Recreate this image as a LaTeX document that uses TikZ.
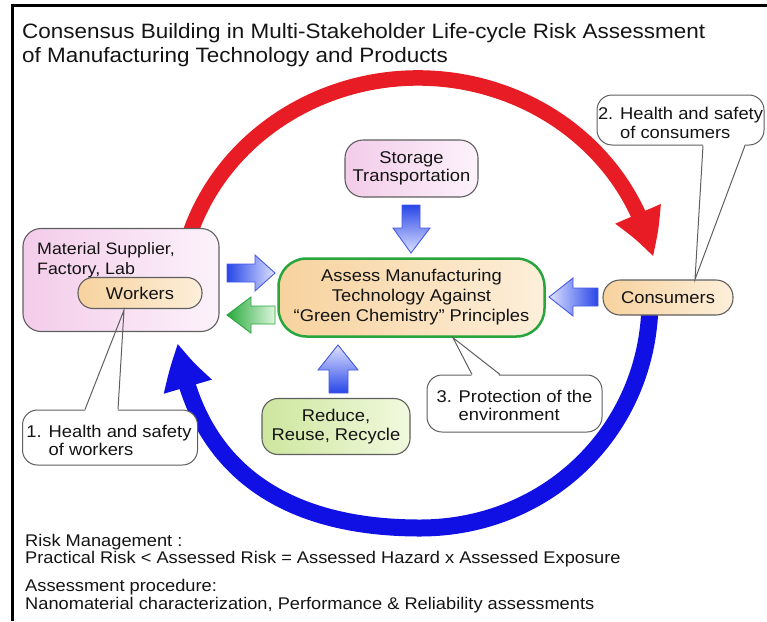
\documentclass[tikz,border=0pt]{standalone}
\usepackage{fontspec}
\setmainfont{Liberation Sans}[FakeStretch=1.08]
\usetikzlibrary{arrows.meta,calc,bending}
\definecolor{arcred}{RGB}{232,28,36}
\definecolor{arcblue}{RGB}{16,16,228}
\definecolor{edgegray}{RGB}{95,95,95}
\definecolor{pinkA}{RGB}{243,204,233}
\definecolor{pinkB}{RGB}{252,242,251}
\definecolor{orangeA}{RGB}{247,210,158}
\definecolor{orangeB}{RGB}{253,239,218}
\definecolor{greenA}{RGB}{205,230,158}
\definecolor{greenB}{RGB}{242,249,222}
\definecolor{bdark}{RGB}{40,70,232}
\definecolor{blight}{RGB}{222,226,255}
\definecolor{bedge}{RGB}{70,90,225}
\definecolor{gdark}{RGB}{40,170,60}
\definecolor{glight}{RGB}{222,246,222}
\definecolor{gedge}{RGB}{40,165,60}
\definecolor{txt}{RGB}{20,20,20}
\newcommand\calltail[4]{%
  \fill[white] ($(#2)+#4$) -- ($(#2)!0.25!(#1)$) -- ($(#3)!0.25!(#1)$) -- ($(#3)+#4$) -- cycle;
  \draw[edgegray, line width=1pt, line join=miter] (#2) -- (#1) -- (#3);
}
\begin{document}
\begin{tikzpicture}[x=1pt,y=-1pt,
  every node/.style={text=txt, inner sep=0pt},
  boxfont/.style={font=\fontsize{17}{20}\selectfont},
  tightfont/.style={font=\fontsize{17}{17.5}\selectfont},
  roundbox/.style={draw=edgegray, line width=1.1pt, rounded corners=#1},
  pinkfill/.style={left color=pinkA, right color=pinkB},
  orangefill/.style={left color=orangeA, right color=orangeB},
  greenfill/.style={left color=greenA, right color=greenB},
  calloutbox/.style={draw=edgegray, line width=1pt, fill=white, rounded corners=15pt},
  blockarrow/.style={line width=0.9pt, line join=miter},
  bigtip/.style={-{Triangle[length=46pt,width=46pt,bend]}},
  plaintext/.style={anchor=base west, font=\fontsize{16.9}{18}\selectfont},
]
\useasboundingbox (0,0) rectangle (767,621);
% frame
\draw[line width=3pt, black, line join=miter] (12,621) -- (12,5.5) -- (767,5.5);
% title
\node[anchor=base west, font=\fontsize{20.8}{24}\selectfont] (title1) at (22,38) {Consensus Building in Multi-Stakeholder Life-cycle Risk Assessment};
\node[anchor=base west, font=\fontsize{20.8}{24}\selectfont] (title2) at (22,62) {of Manufacturing Technology and Products};
% cycle arcs
\coordinate (ec) at (418,304);
\draw[bigtip, line width=15.5pt, arcred] ($(ec)+(198:240 and 226)$) arc[start angle=198, end angle=348, x radius=240, y radius=226];
\coordinate (bstart) at (650,300);
\coordinate (bend) at (178,343);
\draw[bigtip, line width=17pt, arcblue] (bstart) .. controls (650,428) and (549,528) .. (420,528) .. controls (272,528) and (194,458) .. (bend);
% boxes
\node[roundbox=18pt, pinkfill, minimum width=196pt, minimum height=103pt] (mat) at (121,280) {};
\node[anchor=north west, align=left, font=\fontsize{16.5}{20}\selectfont] (matlab) at (37,242) {Material Supplier,\\Factory, Lab};
\node[roundbox=15pt, orangefill, minimum width=124pt, minimum height=31pt, boxfont] (workers) at (140,293) {Workers};
\node[draw=gedge, line width=2.5pt, rounded corners=28pt, orangefill, minimum width=266pt, minimum height=78pt, align=center, boxfont] (ctr) at (411.5,297.5) {Assess Manufacturing\\Technology Against\\``Green Chemistry'' Principles};
\node[roundbox=18pt, pinkfill, minimum width=133pt, minimum height=57pt, align=center, tightfont] (store) at (411.5,168.5) {Storage\\Transportation};
\node[roundbox=16pt, greenfill, minimum width=148pt, minimum height=56pt, align=center, font=\fontsize{17}{19}\selectfont] (rrr) at (336,426.5) {Reduce,\\Reuse, Recycle};
\node[roundbox=17pt, orangefill, minimum width=130pt, minimum height=35pt, boxfont] (cons) at (668,297.5) {Consumers};
% block arrows
\draw[blockarrow, draw=bedge, left color=bdark, right color=blight]
  (227,264) -- (255,264) -- (255,255) -- (275,273) -- (255,291) -- (255,282) -- (227,282) -- cycle;
\draw[blockarrow, draw=gedge, left color=gdark, right color=glight]
  (275,306) -- (251,306) -- (251,297) -- (227,315) -- (251,333) -- (251,324) -- (275,324) -- cycle;
\draw[blockarrow, draw=bedge, top color=bdark, bottom color=blight]
  (402,205) -- (420,205) -- (420,228) -- (430,228) -- (411,253) -- (393,228) -- (402,228) -- cycle;
\draw[blockarrow, draw=bedge, bottom color=bdark, top color=blight]
  (329,393) -- (348,393) -- (348,370) -- (358,370) -- (338,345) -- (318,370) -- (329,370) -- cycle;
\draw[blockarrow, draw=bedge, right color=bdark, left color=blight]
  (598,288) -- (573,288) -- (573,278) -- (549,297) -- (573,316) -- (573,306) -- (598,306) -- cycle;
% callouts
\node[calloutbox, minimum width=175pt, minimum height=55pt] (c1) at (110,437.5) {};
\node[align=left, tightfont] (c1t) at ($(c1)+(-1,3)$) {1. Health and safety\\\phantom{1. }of workers};
\node[calloutbox, minimum width=167pt, minimum height=50pt] (c2) at (680.5,120) {};
\node[align=left, font=\fontsize{17}{19.5}\selectfont] (c2t) at ($(c2)+(0,3)$) {2. Health and safety\\\phantom{2. }of consumers};
\node[calloutbox, minimum width=175pt, minimum height=57pt] (c3) at (514.5,403.5) {};
\node[align=left, tightfont] (c3t) at ($(c3)+(0,2)$) {3. Protection of the\\\phantom{3. }environment};
% callout tails
\coordinate (t1) at ($(workers.south)+(-16,1)$);
\coordinate (t1a) at ($(c1.north)+(-25,0)$);
\coordinate (t1b) at ($(c1.north)+(8,0)$);
\calltail{t1}{t1a}{t1b}{(0,2)}
\coordinate (t2) at ($(cons.north)+(27,0)$);
\coordinate (t2a) at ($(c2.south)+(22.5,0)$);
\coordinate (t2b) at ($(c2.south)+(64.5,0)$);
\calltail{t2}{t2a}{t2b}{(0,-2)}
\coordinate (t3) at ($(ctr.south)+(41.5,0)$);
\coordinate (t3a) at ($(c3.north)+(-42.5,0)$);
\coordinate (t3b) at ($(c3.north)+(-14.5,0)$);
\calltail{t3}{t3a}{t3b}{(0,2)}
% bottom text
\node[plaintext] (rm1) at (25,546) {Risk Management :};
\node[plaintext] (rm2) at (25,563) {Practical Risk < Assessed Risk = Assessed Hazard x Assessed Exposure};
\node[plaintext] (ap1) at (25,591) {Assessment procedure:};
\node[plaintext] (ap2) at (25,609) {Nanomaterial characterization, Performance \& Reliability assessments};
\end{tikzpicture}
\end{document}
